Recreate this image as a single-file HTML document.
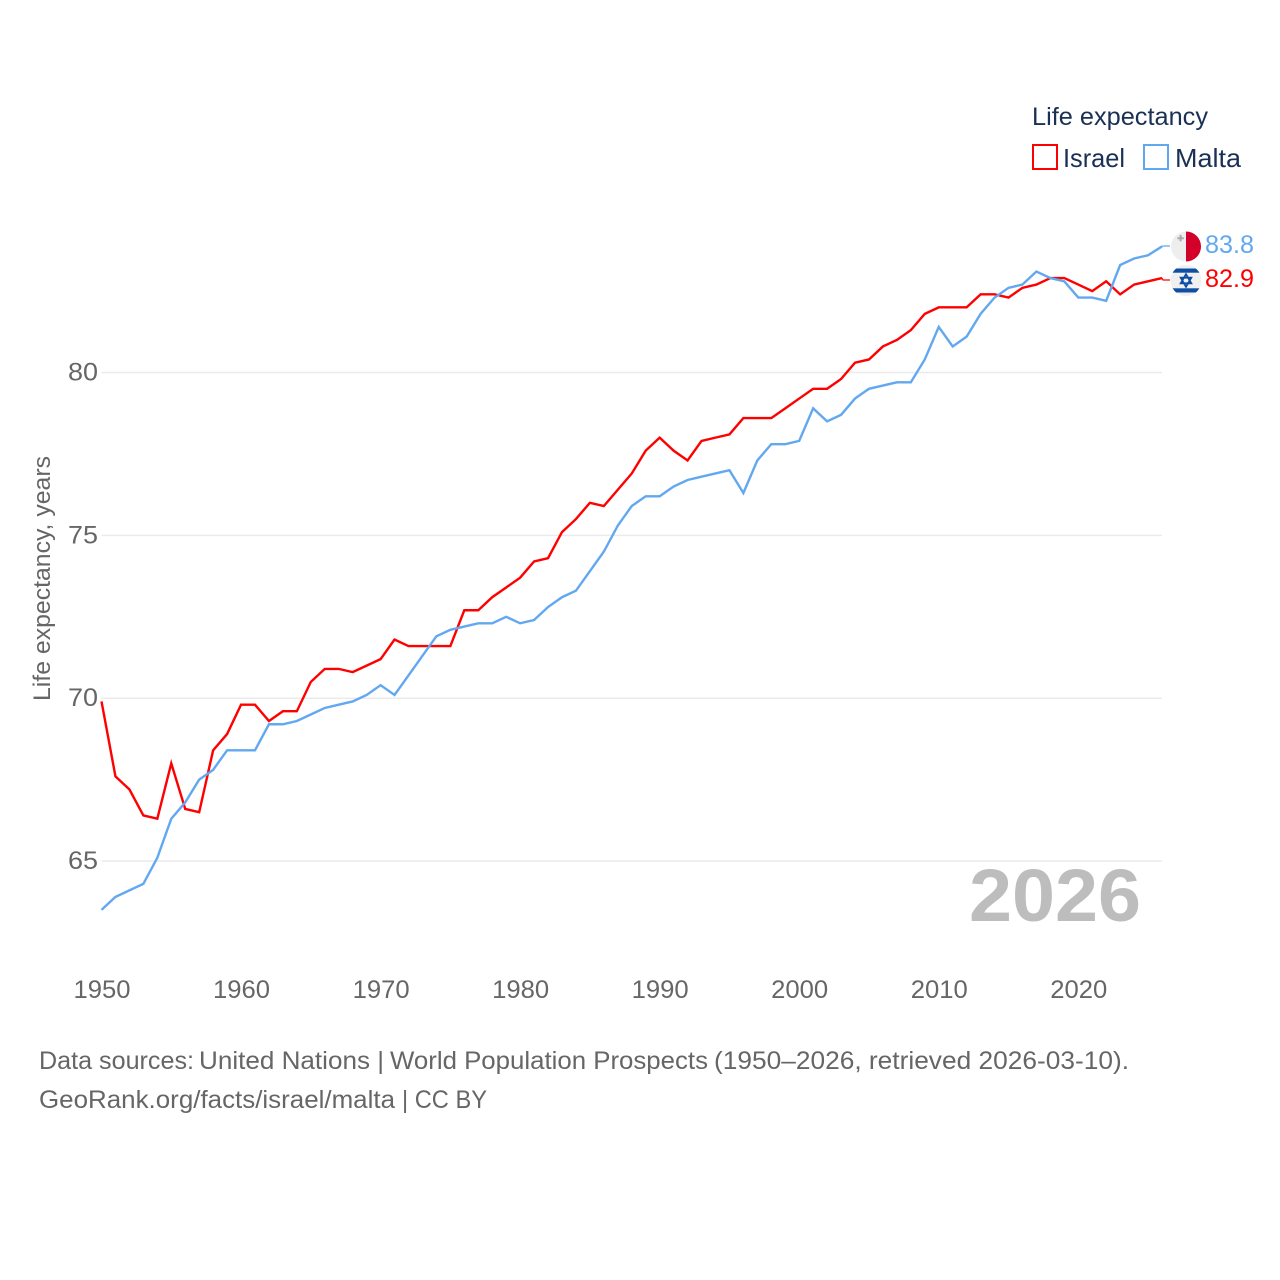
<!DOCTYPE html>
<html lang="en">
<head>
<meta charset="utf-8">
<title>Life expectancy: Israel and Malta</title>
<style>
html,body{margin:0;padding:0;background:#fff}
svg{display:block}
text{font-family:"Liberation Sans",sans-serif}
</style>
</head>
<body>
<svg id="chart" xmlns="http://www.w3.org/2000/svg" width="1280" height="1280" viewBox="0 0 1280 1280">
  <defs>
    <clipPath id="israel-flag-clip"><circle cx="1186" cy="280.500" r="15.500"/></clipPath>
  </defs>
  <rect x="0" y="0" width="1280" height="1280" fill="#ffffff"/>
  <g id="grid"></g>
  <g id="yticks"></g>
  <g id="xticks"></g>
  <text transform="translate(50,701) rotate(-90)" font-size="24" fill="#666666" textLength="245" lengthAdjust="spacingAndGlyphs">Life expectancy, years</text>
  <text x="1141" y="921" text-anchor="end" font-size="74" font-weight="bold" fill="#bdbdbd" textLength="172" lengthAdjust="spacingAndGlyphs">2026</text>
  <g id="series"></g>

  <g>
    <text x="1032" y="125" font-size="25" fill="#1a3054" textLength="176" lengthAdjust="spacingAndGlyphs">Life expectancy</text>
    <rect x="1033" y="145" width="24" height="24" fill="none" stroke="#ff0000" stroke-width="2"/>
    <text x="1063" y="167" font-size="26" fill="#1a3054" textLength="62" lengthAdjust="spacingAndGlyphs">Israel</text>
    <rect x="1144" y="145" width="24" height="24" fill="none" stroke="#62a8f0" stroke-width="2"/>
    <text x="1175" y="167" font-size="26" fill="#1a3054" textLength="66" lengthAdjust="spacingAndGlyphs">Malta</text>
  </g>

  <g>
    <circle cx="1186" cy="246.500" r="15" fill="#eeeeee"/>
    <path d="M1186 231.500 A15 15 0 0 1 1186 261.500 Z" fill="#d3002a"/>
    <path d="M1179.600 235h2v2.200h2.200v2h-2.200v2.200h-2v-2.200h-2.200v-2h2.200z" fill="#aaaaaa"/>
  </g>
  <g>
    <circle cx="1186" cy="280.500" r="15.500" fill="#f0f0f0"/>
    <g clip-path="url(#israel-flag-clip)">
      <rect x="1170" y="268.500" width="32" height="4.200" fill="#0f4fa3"/>
      <rect x="1170" y="288.300" width="32" height="4.200" fill="#0f4fa3"/>
    </g>
    <path d="M1186 274.200 L1191.300 283.300 H1180.700 Z M1186 286.800 L1180.700 277.700 H1191.300 Z" fill="none" stroke="#0f4fa3" stroke-width="1.800"/>
  </g>
  <text x="1205" y="253" font-size="25" fill="#62a8f0" textLength="49" lengthAdjust="spacingAndGlyphs">83.8</text>
  <text x="1205" y="287" font-size="25" fill="#ff0000" textLength="49" lengthAdjust="spacingAndGlyphs">82.9</text>

  <g>
    <text y="1069" font-size="25" fill="#666666"><tspan x="39" textLength="155" lengthAdjust="spacingAndGlyphs">Data sources:</tspan> <tspan x="199" textLength="185" lengthAdjust="spacingAndGlyphs">United Nations |</tspan> <tspan x="390" textLength="318" lengthAdjust="spacingAndGlyphs">World Population Prospects</tspan> <tspan x="714" textLength="415" lengthAdjust="spacingAndGlyphs">(1950–2026, retrieved 2026-03-10).</tspan></text>
    <text y="1108" font-size="25" fill="#666666"><tspan x="39" textLength="356" lengthAdjust="spacingAndGlyphs">GeoRank.org/facts/israel/malta</tspan> <tspan x="402" textLength="85" lengthAdjust="spacingAndGlyphs">| CC BY</tspan></text>
  </g>
</svg>
<script>
const startYear = 1950;
const endYear = 2026;
const israelValues = [69.9,67.6,67.2,66.4,66.3,68.0,66.6,66.5,68.4,68.9,69.8,69.8,69.3,69.6,69.6,70.5,70.9,70.9,70.8,71.0,71.2,71.8,71.6,71.6,71.6,71.6,72.7,72.7,73.1,73.4,73.7,74.2,74.3,75.1,75.5,76.0,75.9,76.4,76.9,77.6,78.0,77.6,77.3,77.9,78.0,78.1,78.6,78.6,78.6,78.9,79.2,79.5,79.5,79.8,80.3,80.4,80.8,81.0,81.3,81.8,82.0,82.0,82.0,82.4,82.4,82.3,82.6,82.7,82.9,82.9,82.7,82.5,82.8,82.4,82.7,82.8,82.9];
const maltaValues = [63.5,63.9,64.1,64.3,65.1,66.3,66.8,67.5,67.8,68.4,68.4,68.4,69.2,69.2,69.3,69.5,69.7,69.8,69.9,70.1,70.4,70.1,70.7,71.3,71.9,72.1,72.2,72.3,72.3,72.5,72.3,72.4,72.8,73.1,73.3,73.9,74.5,75.3,75.9,76.2,76.2,76.5,76.7,76.8,76.9,77.0,76.3,77.3,77.8,77.8,77.9,78.9,78.5,78.7,79.2,79.5,79.6,79.7,79.7,80.4,81.4,80.8,81.1,81.8,82.3,82.6,82.7,83.1,82.9,82.8,82.3,82.3,82.2,83.3,83.5,83.6,83.87];
const yTickValues = [65,70,75,80];
const xTickValues = [1950,1960,1970,1980,1990,2000,2010,2020];

const svgNS = 'http://www.w3.org/2000/svg';
const plotLeft = 101.5;
const plotRight = 1162;

function xScale(year) {
  return plotLeft + (year - startYear) * (plotRight - plotLeft) / (endYear - startYear);
}
function yScale(value) {
  return 372.5 + (80 - value) * 32.57;
}
function make(tag, attrs, text) {
  const el = document.createElementNS(svgNS, tag);
  for (const key in attrs) el.setAttribute(key, attrs[key]);
  if (text !== undefined) el.textContent = text;
  return el;
}

const gridGroup = document.getElementById('grid');
const yGroup = document.getElementById('yticks');
const xGroup = document.getElementById('xticks');
const seriesGroup = document.getElementById('series');

yTickValues.forEach(function (tick) {
  const y = yScale(tick);
  const line = make('line', {x1: plotLeft, x2: plotRight, y1: y, y2: y, stroke: '#ebebeb', 'stroke-width': 1.5});
  
  
  gridGroup.appendChild(line);
  const label = make('text', {x: 98, y: y + 8, 'text-anchor': 'end', 'font-size': 25, fill: '#666666', textLength: 30, lengthAdjust: 'spacingAndGlyphs'}, String(tick));
  
  
  yGroup.appendChild(label);
});

xTickValues.forEach(function (tick) {
  const label = make('text', {x: xScale(tick) + 0.5, y: 998, 'text-anchor': 'middle', 'font-size': 25, fill: '#666666', textLength: 57, lengthAdjust: 'spacingAndGlyphs'}, String(tick));
  
  
  xGroup.appendChild(label);
});

function drawSeries(values, color, name, flagCenterY) {
  const points = values.map(function (value, i) {
    return xScale(startYear + i).toFixed(2) + ',' + yScale(value).toFixed(2);
  }).join(' ');
  const line = make('polyline', {points: points, fill: 'none', stroke: color, 'stroke-width': 2.4, 'stroke-linejoin': 'miter'});
  
  
  seriesGroup.appendChild(line);
  const lastY = yScale(values[values.length - 1]);
  const connectorPoints = plotRight + ',' + lastY.toFixed(2) + ' ' + (plotRight + 1) + ',' + flagCenterY + ' ' + (plotRight + 8) + ',' + flagCenterY;
  const connector = make('polyline', {points: connectorPoints, fill: 'none', stroke: color, 'stroke-width': 1.2});
  
  
  seriesGroup.appendChild(connector);
}
drawSeries(israelValues, '#ff0000', 'israel', 280);
drawSeries(maltaValues, '#62a8f0', 'malta', 246);
</script>
</body>
</html>
